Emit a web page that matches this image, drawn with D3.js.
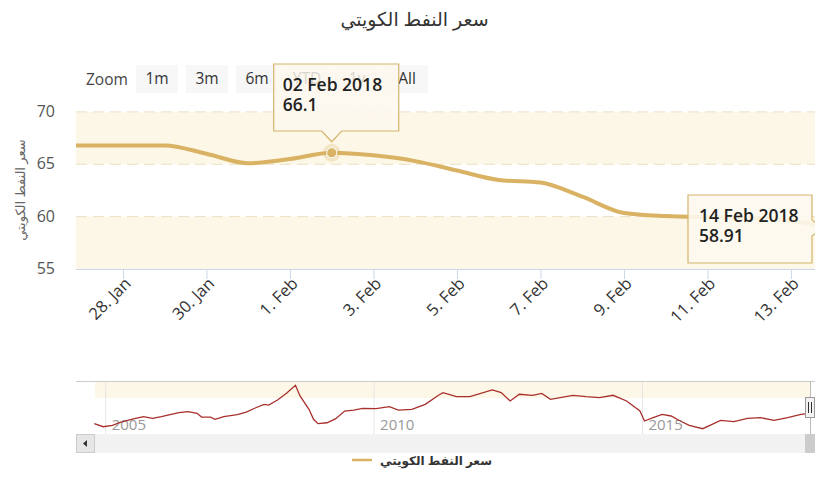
<!DOCTYPE html>
<html>
<head>
<meta charset="utf-8">
<script src="https://cdn.jsdelivr.net/npm/d3@7"></script>
<style>
  body { margin: 0; background: #fff; }
  svg { display: block; font-family: "Open Sans", "DejaVu Sans", sans-serif; }
</style>
</head>
<body>
<div id="chart"></div>
<script>
// main series (daily)
const dayDates = ["2018-01-26", "2018-01-27", "2018-01-28", "2018-01-29", "2018-01-30", "2018-01-31",
	"2018-02-01", "2018-02-02", "2018-02-03", "2018-02-04", "2018-02-05", "2018-02-06", "2018-02-07",
	"2018-02-08", "2018-02-09", "2018-02-10", "2018-02-11", "2018-02-12", "2018-02-13", "2018-02-14"];
const dayValues = [66.8, 66.8, 66.8, 66.8, 66.0, 65.1,
	65.5, 66.1, 65.85, 65.3, 64.4, 63.5, 63.25,
	61.9, 60.35, 60.05, 59.95, 59.9, 59.6, 58.91];

const tickDates = ["2018-01-28", "2018-01-30", "2018-02-01", "2018-02-03", "2018-02-05",
	"2018-02-07", "2018-02-09", "2018-02-11", "2018-02-13"];
const yTicks = [55, 60, 65, 70];
const bands = [[55, 60], [65, 70]];

// navigator series (whole history)
const navDates = ["2004-10", "2004-12", "2005-02", "2005-04", "2005-07", "2005-09", "2005-11",
	"2006-01", "2006-03", "2006-05", "2006-07", "2006-09", "2006-10", "2006-12",
	"2007-01", "2007-03", "2007-06", "2007-08", "2007-10", "2007-12",
	"2008-01", "2008-03", "2008-05", "2008-07", "2008-08", "2008-10", "2008-11", "2008-12",
	"2009-02", "2009-04", "2009-06", "2009-08", "2009-10",
	"2010-01", "2010-04", "2010-06", "2010-09", "2010-12",
	"2011-03", "2011-04", "2011-07", "2011-10",
	"2012-03", "2012-05", "2012-07", "2012-09", "2012-12",
	"2013-02", "2013-04", "2013-09", "2013-12",
	"2014-03", "2014-06", "2014-09", "2014-12",
	"2015-01", "2015-03", "2015-05", "2015-07", "2015-09", "2015-11",
	"2016-02", "2016-04", "2016-06", "2016-09", "2016-12",
	"2017-03", "2017-06", "2017-09", "2017-12", "2018-02"];
const navValues = [36.7, 29.3, 32.7, 40.8, 48.9, 53.9, 49.8,
	53.9, 58.8, 63.7, 66.1, 62.1, 53.1, 52.9,
	47.4, 53.9, 58.8, 65.3, 75.2, 84.2,
	82.5, 94.8, 111.3, 131, 104.7, 72, 47.5, 36.7,
	39, 49, 67.8, 70, 74.4,
	73.6, 78.5, 70, 72, 84.2,
	106.4, 113, 103, 103,
	119.5, 113, 92.4, 109, 106.4,
	111, 96.6, 106.4, 103,
	100.8, 106.4, 92.4, 67.8,
	43.3, 51.4, 59.7, 55.6, 43.3, 32.7,
	24.4, 34.6, 45, 42, 49.8,
	51.4, 45, 51.4, 59.7, 62];
const navYears = ["2005", "2010", "2015"];

const tips = [
	{date: "2018-02-02", label: "02 Feb 2018", value: "66.1"},
	{date: "2018-02-14", label: "14 Feb 2018", value: "58.91"}
];
const zoomButtons = ["1m", "3m", "6m", "YTD", "1y", "All"];
const titleText = "سعر النفط الكويتي";

const W = 815, H = 500;
const lineColor = "#d9b263";
const bandColor = "#fdf7e8";
const parseDay = d3.timeParse("%Y-%m-%d");
const parseMonth = d3.timeParse("%Y-%m");

const svg = d3.select("#chart").append("svg")
	.attr("width", W)
	.attr("height", H);

// title
svg.append("text")
	.attr("x", W / 2 + 7)
	.attr("y", 26)
	.attr("text-anchor", "middle")
	.attr("font-size", 19)
	.attr("fill", "#333")
	.text(titleText);

// scales
let x = d3.scaleTime()
	.domain([new Date(2018, 0, 26, 21), new Date(2018, 1, 14)])
	.range([76, 832.7]);
let y = d3.scaleLinear()
	.domain([55, 70])
	.range([269, 111.9]);

svg.append("clipPath").attr("id", "plotClip")
	.append("rect").attr("x", 76).attr("y", 95).attr("width", W - 76).attr("height", 180);

// plot bands
svg.append("g").selectAll("rect")
	.data(bands)
	.join("rect")
	.attr("x", 76)
	.attr("width", W - 76)
	.attr("y", d => y(d[1]))
	.attr("height", d => y(d[0]) - y(d[1]))
	.attr("fill", bandColor);

// grid
svg.append("g").selectAll("line")
	.data(yTicks.filter(v => v > 55))
	.join("line")
	.attr("x1", 76).attr("x2", W)
	.attr("y1", d => y(d)).attr("y2", d => y(d))
	.attr("stroke", "#eadfc4")
	.attr("stroke-dasharray", "11,6");

// y axis labels
svg.append("g").selectAll("text")
	.data(yTicks)
	.join("text")
	.attr("x", 55)
	.attr("y", d => y(d) + 5)
	.attr("text-anchor", "end")
	.attr("font-size", 16)
	.attr("fill", "#555")
	.text(d => d);

svg.append("text")
	.attr("transform", "translate(25,190) rotate(-90)")
	.attr("text-anchor", "middle")
	.attr("font-size", 13)
	.attr("fill", "#666")
	.text(titleText);

// x axis
let xAxis = d3.axisBottom(x)
	.tickValues(tickDates.map(parseDay))
	.tickFormat(d3.timeFormat("%-d. %b"))
	.tickSize(10)
	.tickSizeOuter(0);

let gx = svg.append("g")
	.attr("transform", "translate(0,269)")
	.call(xAxis);
gx.select(".domain").attr("stroke", "#ccd6eb").attr("d", `M76,0.5H${W}`);
gx.selectAll(".tick line").attr("stroke", "#ccd6eb");
gx.selectAll(".tick text")
	.attr("font-size", 16.5)
	.attr("font-family", "Open Sans, sans-serif")
	.attr("fill", "#333")
	.attr("text-anchor", "end")
	.attr("transform", "translate(5,12) rotate(-45)")
	.attr("dy", "0.3em")
	.attr("y", 0)
	.attr("x", 0);

// line
let series = dayDates.map((d, i) => ({date: parseDay(d), value: dayValues[i]}));
svg.append("path")
	.datum(series)
	.attr("clip-path", "url(#plotClip)")
	.attr("fill", "none")
	.attr("stroke", lineColor)
	.attr("stroke-width", 4)
	.attr("d", d3.line()
		.x(d => x(d.date))
		.y(d => y(d.value))
		.curve(d3.curveMonotoneX));

// zoom buttons
svg.append("text")
	.attr("x", 86).attr("y", 85)
	.attr("font-size", 15.5).attr("fill", "#444")
	.text("Zoom");
let btn = svg.append("g").selectAll("g")
	.data(zoomButtons)
	.join("g")
	.attr("transform", (d, i) => `translate(${136 + i * 50},65)`);
btn.append("rect")
	.attr("width", 42).attr("height", 28)
	.attr("fill", "#f7f7f7");
btn.append("text")
	.attr("x", 21).attr("y", 19)
	.attr("text-anchor", "middle")
	.attr("font-size", 15.5).attr("fill", "#333")
	.text(d => d);

// hover marker at first tip
let p0 = {date: parseDay(tips[0].date), value: +tips[0].value};
svg.append("circle")
	.attr("cx", x(p0.date)).attr("cy", y(p0.value))
	.attr("r", 9).attr("fill", lineColor).attr("opacity", 0.25);
svg.append("circle")
	.attr("cx", x(p0.date)).attr("cy", y(p0.value))
	.attr("r", 5).attr("fill", lineColor)
	.attr("stroke", "#fff").attr("stroke-width", 1);

// tooltip 1 (callout below)
{
	let px = x(p0.date), py = y(p0.value);
	let bx = px - 58, by = 64, bw = 125, bh = 67;
	svg.append("path")
		.attr("d", `M${bx},${by}H${bx + bw}V${by + bh}H${px + 10}L${px},${py - 11}L${px - 10},${by + bh}H${bx}Z`)
		.attr("fill", "#fdf8ee").attr("fill-opacity", 0.82)
		.attr("stroke", "#d4b46c").attr("stroke-width", 1.2);
	svg.append("text").attr("x", bx + 9).attr("y", by + 27)
		.attr("font-size", 17.5).attr("font-weight", 600).attr("fill", "#222")
		.text(tips[0].label);
	svg.append("text").attr("x", bx + 9).attr("y", by + 47)
		.attr("font-size", 17.5).attr("font-weight", 600).attr("fill", "#222")
		.text(tips[0].value);
}

// tooltip 2 (callout to the right)
{
	let px = x(parseDay(tips[1].date)), py = y(+tips[1].value);
	let bx = 688, by = 195, bw = 124, bh = 68;
	svg.append("path")
		.attr("d", `M${bx},${by}H${bx + bw}V${py - 8}L${px - 10},${py}L${bx + bw},${py + 8}V${by + bh}H${bx}Z`)
		.attr("fill", "#fdf8ee").attr("fill-opacity", 0.9)
		.attr("stroke", "#d4b46c").attr("stroke-width", 1.2);
	svg.append("text").attr("x", bx + 11).attr("y", by + 27)
		.attr("font-size", 17.5).attr("font-weight", 600).attr("fill", "#222")
		.text(tips[1].label);
	svg.append("text").attr("x", bx + 11).attr("y", by + 47)
		.attr("font-size", 17.5).attr("font-weight", 600).attr("fill", "#222")
		.text(tips[1].value);
}

// navigator
let nx = d3.scaleTime()
	.domain([new Date(2004, 9, 20), new Date(2018, 1, 14)])
	.range([95, 810]);
let ny = d3.scaleLinear()
	.domain([20, 140])
	.range([430.5, 381.6]);

svg.append("rect")
	.attr("x", 95).attr("y", 381).attr("width", 715).attr("height", 17)
	.attr("fill", bandColor);

svg.append("g").selectAll("line")
	.data(navYears)
	.join("line")
	.attr("x1", d => nx(new Date(+d, 0, 1))).attr("x2", d => nx(new Date(+d, 0, 1)))
	.attr("y1", 381).attr("y2", 434)
	.attr("stroke", "#e6e6e6");
svg.append("g").selectAll("text")
	.data(navYears)
	.join("text")
	.attr("x", d => nx(new Date(+d, 0, 1)) + 6)
	.attr("y", 430)
	.attr("font-size", 15).attr("fill", "#999")
	.text(d => d);

let navSeries = navDates.map((d, i) => ({date: d3.timeDay.offset(parseMonth(d), 14), value: navValues[i]}));
svg.append("path")
	.datum(navSeries)
	.attr("fill", "none")
	.attr("stroke", "#a8302c")
	.attr("stroke-width", 1.3)
	.attr("d", d3.line()
		.x(d => nx(d.date))
		.y(d => ny(d.value)));

svg.append("line")
	.attr("x1", 76).attr("x2", W).attr("y1", 381.5).attr("y2", 381.5)
	.attr("stroke", "#ccc");
svg.append("line")
	.attr("x1", 810.5).attr("x2", 810.5).attr("y1", 381).attr("y2", 434)
	.attr("stroke", "#bbb");
svg.append("rect")
	.attr("x", 805.5).attr("y", 397.5).attr("width", 9).attr("height", 20)
	.attr("fill", "#f2f2f2").attr("stroke", "#999");
svg.append("path")
	.attr("d", "M808.5,402V413M811.5,402V413")
	.attr("stroke", "#333");

// scrollbar
svg.append("rect")
	.attr("x", 76).attr("y", 434).attr("width", W - 76).attr("height", 19)
	.attr("fill", "#f2f2f2");
svg.append("rect")
	.attr("x", 76.5).attr("y", 434.5).attr("width", 18).attr("height", 18)
	.attr("fill", "#e6e6e6").attr("stroke", "#ccc");
svg.append("path")
	.attr("d", "M83,443.5L87,440V447Z")
	.attr("fill", "#333");
svg.append("rect")
	.attr("x", 805).attr("y", 434).attr("width", 10).attr("height", 19)
	.attr("fill", "#ccc");

// legend
svg.append("line")
	.attr("x1", 352).attr("x2", 372).attr("y1", 460).attr("y2", 460)
	.attr("stroke", lineColor).attr("stroke-width", 2.5);
svg.append("text")
	.attr("x", 380).attr("y", 465)
	.attr("font-size", 12).attr("font-weight", "bold").attr("fill", "#333")
	.text(titleText);
</script>
</body>
</html>
